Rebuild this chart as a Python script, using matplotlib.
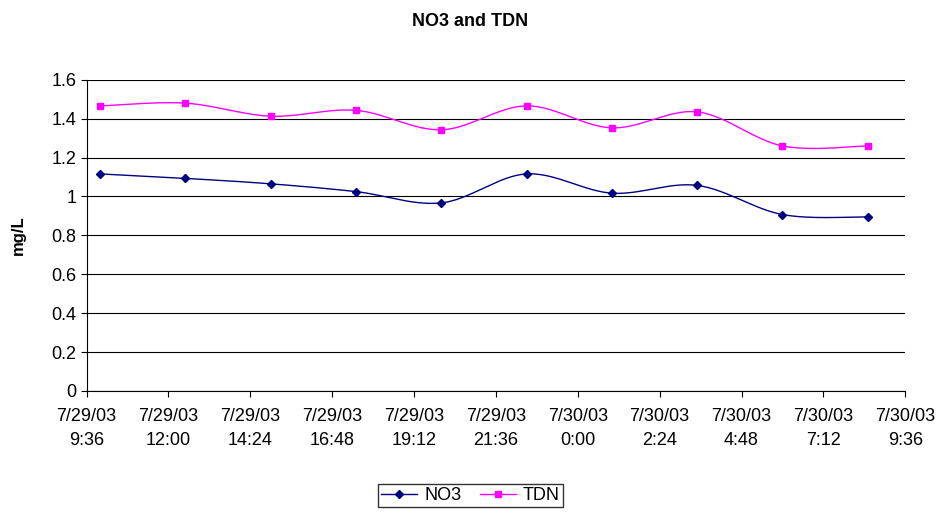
import numpy as np
import matplotlib.pyplot as plt

plt.rcParams['font.family'] = ['Liberation Sans', 'DejaVu Sans']

# hours after 7/29/03 9:36
hours = [0.4, 2.9, 5.4, 7.9, 10.4, 12.9, 15.4, 17.9, 20.4, 22.9]
no3 = [1.116, 1.093, 1.065, 1.025, 0.967, 1.116, 1.017, 1.057, 0.907, 0.895]
tdn = [1.466, 1.480, 1.413, 1.443, 1.343, 1.466, 1.353, 1.435, 1.260, 1.260]
tick_labels = ['7/29/03\n9:36', '7/29/03\n12:00', '7/29/03\n14:24', '7/29/03\n16:48',
               '7/29/03\n19:12', '7/29/03\n21:36', '7/30/03\n0:00', '7/30/03\n2:24',
               '7/30/03\n4:48', '7/30/03\n7:12', '7/30/03\n9:36']


def smooth(x, y, n=30):
    # Excel-like Bezier smoothing through the points
    x = np.asarray(x); y = np.asarray(y)
    xs, ys = [x[0]], [y[0]]
    for i in range(len(x) - 1):
        p0 = np.array([x[max(i - 1, 0)], y[max(i - 1, 0)]])
        p1 = np.array([x[i], y[i]])
        p2 = np.array([x[i + 1], y[i + 1]])
        p3 = np.array([x[min(i + 2, len(x) - 1)], y[min(i + 2, len(x) - 1)]])
        c1 = p1 + (p2 - p0) / 6
        c2 = p2 - (p3 - p1) / 6
        t = np.linspace(0, 1, n)[1:, None]
        pts = ((1 - t) ** 3 * p1 + 3 * (1 - t) ** 2 * t * c1
               + 3 * (1 - t) * t ** 2 * c2 + t ** 3 * p2)
        xs.extend(pts[:, 0]); ys.extend(pts[:, 1])
    return xs, ys


fig = plt.figure(figsize=(9.41, 5.15), dpi=100)
ax = fig.add_axes([0.092, 0.241, 0.87, 0.604])

for data, col, mk, name in [(no3, '#000080', 'D', 'NO3'), (tdn, '#FF00FF', 's', 'TDN')]:
    sx, sy = smooth(hours, data)
    ax.plot(sx, sy, color=col, lw=1)
    ax.plot(hours, data, ls='none', marker=mk, color=col, ms=4 if mk == 'D' else 5)
    ax.plot([], [], color=col, marker=mk, ms=4 if mk == 'D' else 5, lw=1, label=name)

ax.set_xlim(0, 24)
ax.set_ylim(0, 1.6)
ax.set_xticks(np.arange(0, 24.01, 2.4))
ax.set_xticklabels(tick_labels, fontsize=13, linespacing=1.6)
ax.set_yticks(np.arange(0, 1.61, 0.2))
ax.set_yticklabels(['0', '0.2', '0.4', '0.6', '0.8', '1', '1.2', '1.4', '1.6'], fontsize=13)
ax.yaxis.grid(True, color='black', lw=0.8)
ax.set_axisbelow(True)
for s in ['top', 'right']:
    ax.spines[s].set_visible(False)
ax.tick_params(direction='out', length=4)
ax.tick_params(axis='x', pad=8)
ax.set_ylabel('mg/L', fontsize=12, fontweight='bold', labelpad=18)
fig.suptitle('NO3 and TDN', fontsize=13, fontweight='bold', y=0.975)

fig.legend(loc='center', bbox_to_anchor=(0.5, 0.038), ncol=2, fontsize=13,
           frameon=True, fancybox=False, edgecolor='black', handlelength=2.0,
           borderpad=0.15, columnspacing=1.0, handletextpad=0.4)

fig.savefig('out.png')
